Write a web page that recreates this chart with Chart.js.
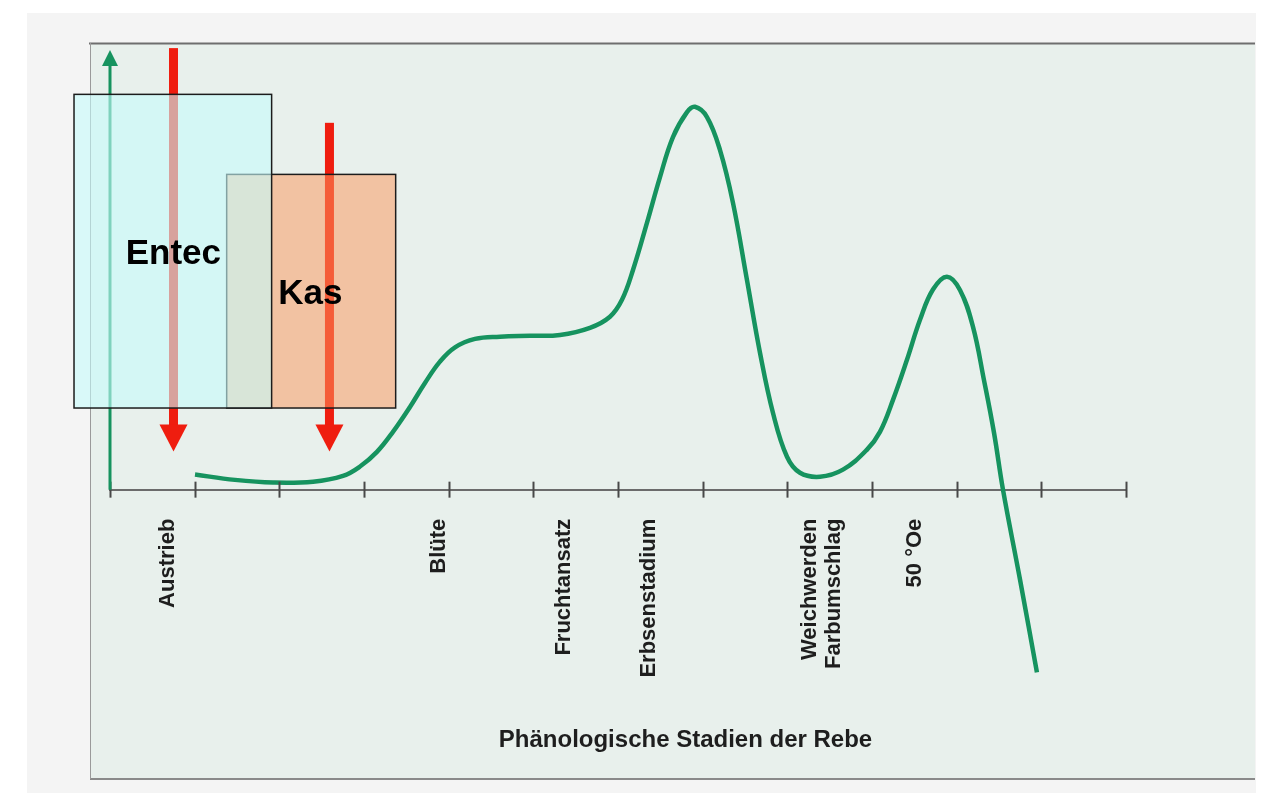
<!DOCTYPE html>
<html>
<head>
<meta charset="utf-8">
<script src="https://cdn.jsdelivr.net/npm/chart.js@4.4.1/dist/chart.umd.min.js"></script>
<style>
  html, body { margin: 0; padding: 0; background: #f4f4f4; }
  canvas { display: block; }
</style>
</head>
<body>
<canvas id="chart" width="1261" height="793"></canvas>
<script>
// x: Teilstriche 0..12 auf der Stadien-Achse, y: 0 = Achse, 100 = oben
const tickValues = [0, 1, 2, 3, 4, 5, 6, 7, 8, 9, 10, 11, 12];
const stageNames = ['Austrieb', 'Blüte', 'Fruchtansatz', 'Erbsenstadium', ['Weichwerden', 'Farbumschlag'], '50 °Oe'];
const stagePos = [0.685, 3.886, 5.362, 6.366, 8.267, 9.507];

// Kurve
const curveX = [1.004, 1.476, 1.925, 2.398, 2.752, 2.953, 3.153, 3.342, 3.543, 3.720, 3.897, 4.075,
  4.311, 4.606, 4.960, 5.315, 5.669, 5.905, 6.047, 6.177, 6.342, 6.496, 6.649, 6.815, 6.909,
  7.051, 7.204, 7.358, 7.523, 7.677, 7.830, 7.996, 8.149, 8.386, 8.657, 8.941, 9.094, 9.248,
  9.413, 9.567, 9.720, 9.885, 10.039, 10.193, 10.322, 10.441, 10.547, 10.748, 10.948];
const curveY = [3.4, 2.2, 1.6, 1.8, 3.1, 5.2, 8.5, 13.0, 18.6, 24.0, 28.8, 32.0,
  33.9, 34.4, 34.6, 34.8, 36.4, 38.9, 42.7, 49.4, 60.0, 70.3, 79.3, 84.9, 86.1,
  83.8, 76.4, 64.5, 47.2, 30.8, 17.3, 7.4, 3.8, 2.9, 4.5, 9.0, 13.0, 20.2,
  29.2, 38.2, 45.0, 47.9, 44.9, 36.6, 24.7, 12.8, 0, -20.2, -41.1];

const axisArrowTop = 98.9;

// rote Pfeile (Düngezeitpunkte)
const arrowX = [0.75, 2.592];
const arrowTop = [99.3, 82.5];
const arrowTip = [8.6, 8.6];

// Kästen, in Zeichenreihenfolge (Kas liegt unter Entec)
const boxNames = ['Kas', 'Entec'];
const boxLeft = [1.378, -0.425];
const boxRight = [3.374, 1.909];
const boxTop = [70.9, 88.9];
const boxBottom = [18.36, 18.36];
const boxTextX = [1.988, 0.185];
const boxTextY = [41.8, 50.8];

const FONT = "'Liberation Sans', Arial, sans-serif";
const GREEN = '#16935f';
const RED = '#ef1d0f';
const boxFill = ['rgba(252,152,94,0.52)', 'rgba(198,252,251,0.6)'];

const backdrop = {
  id: 'backdrop',
  beforeDraw(chart) {
    const ctx = chart.ctx;
    ctx.save();
    ctx.fillStyle = '#f4f4f4';
    ctx.fillRect(0, 0, chart.width, chart.height);
    ctx.fillStyle = '#ffffff';
    ctx.fillRect(0, 0, chart.width, 13);
    ctx.fillRect(0, 0, 27, chart.height);
    ctx.fillRect(1256, 0, 6, chart.height);
    ctx.fillStyle = '#e8f0ec';
    ctx.fillRect(90, 43, 1165, 736);
    ctx.strokeStyle = '#6e6e6e'; ctx.lineWidth = 2;
    ctx.beginPath(); ctx.moveTo(89, 43.5); ctx.lineTo(1255, 43.5); ctx.stroke();
    ctx.strokeStyle = '#8a8a8a';
    ctx.beginPath(); ctx.moveTo(90, 779); ctx.lineTo(1255, 779); ctx.stroke();
    ctx.strokeStyle = '#9a9a9a'; ctx.lineWidth = 1;
    ctx.beginPath(); ctx.moveTo(90.5, 43); ctx.lineTo(90.5, 779); ctx.stroke();
    ctx.restore();
  }
};

const overlays = {
  id: 'overlays',
  afterDatasetsDraw(chart) {
    const { ctx, scales: { x, y } } = chart;
    const px = v => x.getPixelForValue(v);
    const py = v => y.getPixelForValue(v);
    ctx.save();

    // Teilstriche kreuzen die Achse
    ctx.strokeStyle = '#484848'; ctx.lineWidth = 2;
    x.ticks.forEach(t => {
      const X = Math.round(px(t.value)) + 0.5;
      ctx.beginPath(); ctx.moveTo(X, py(0) - 8); ctx.lineTo(X, py(0) + 8); ctx.stroke();
    });

    // y-Achse mit Pfeilspitze
    const ax = px(0), tipY = py(axisArrowTop);
    ctx.strokeStyle = GREEN; ctx.lineWidth = 3;
    ctx.beginPath(); ctx.moveTo(ax, py(0)); ctx.lineTo(ax, tipY + 10); ctx.stroke();
    ctx.fillStyle = GREEN;
    ctx.beginPath(); ctx.moveTo(ax, tipY); ctx.lineTo(ax - 8, tipY + 16); ctx.lineTo(ax + 8, tipY + 16); ctx.closePath(); ctx.fill();

    // rote Pfeile
    ctx.fillStyle = RED;
    arrowX.forEach((v, i) => {
      const X = px(v), top = py(arrowTop[i]), tip = py(arrowTip[i]);
      ctx.fillRect(X - 4.5, top, 9, tip - 26 - top);
      ctx.beginPath(); ctx.moveTo(X - 14, tip - 27); ctx.lineTo(X + 14, tip - 27); ctx.lineTo(X, tip); ctx.closePath(); ctx.fill();
    });

    // Kästen
    boxNames.forEach((n, i) => {
      const l = px(boxLeft[i]), r = px(boxRight[i]), t = py(boxTop[i]), b = py(boxBottom[i]);
      ctx.fillStyle = boxFill[i];
      ctx.fillRect(l, t, r - l, b - t);
      ctx.strokeStyle = '#1c1c1c'; ctx.lineWidth = 1.5;
      ctx.strokeRect(l, t, r - l, b - t);
    });

    // Beschriftung der Kästen
    ctx.fillStyle = '#000';
    ctx.font = 'bold 35px ' + FONT;
    ctx.textAlign = 'left'; ctx.textBaseline = 'alphabetic';
    boxNames.forEach((n, i) => ctx.fillText(n, px(boxTextX[i]), py(boxTextY[i])));

    ctx.restore();
  }
};

new Chart(document.getElementById('chart'), {
  type: 'line',
  data: {
    datasets: [{
      data: curveX.map((v, i) => ({ x: v, y: curveY[i] })),
      borderColor: GREEN,
      borderWidth: 4.5,
      pointRadius: 0,
      fill: false,
      tension: 0.4,
      xAxisID: 'x',
      yAxisID: 'y'
    }]
  },
  options: {
    responsive: false,
    animation: false,
    layout: { padding: { left: 110, right: 0, top: 45, bottom: 30 } },
    plugins: {
      legend: { display: false },
      tooltip: { enabled: false },
      title: {
        display: true,
        text: 'Phänologische Stadien der Rebe',
        position: 'bottom',
        color: '#1e1e1e',
        font: { family: FONT, size: 24, weight: 'bold' },
        padding: { top: 32, bottom: 8 }
      }
    },
    scales: {
      x: {
        type: 'linear',
        position: { y: 0 },
        min: 0, max: 12,
        afterBuildTicks: s => { s.ticks = tickValues.map(v => ({ value: v })); },
        ticks: { display: false },
        grid: { display: true, drawOnChartArea: false, drawTicks: false },
        border: { color: '#6b6b6b', width: 2 }
      },
      xl: {
        type: 'linear',
        position: { y: 0 },
        min: 0, max: 12,
        afterBuildTicks: s => { s.ticks = stagePos.map(v => ({ value: v })); },
        ticks: {
          autoSkip: false,
          minRotation: 90, maxRotation: 90,
          padding: 29,
          color: '#1e1e1e',
          font: { family: FONT, size: 22, weight: 'bold', lineHeight: 1.1 },
          callback: (v, i) => stageNames[i]
        },
        grid: { display: false, drawTicks: false },
        border: { display: false }
      },
      y: {
        type: 'linear',
        display: false,
        min: -46, max: 100
      },
      yr: {
        type: 'linear',
        position: 'right',
        ticks: { display: false },
        grid: { display: false, drawTicks: false },
        border: { display: false },
        afterFit: s => { s.width = 135; }
      }
    }
  },
  plugins: [backdrop, overlays]
});
</script>
</body>
</html>
